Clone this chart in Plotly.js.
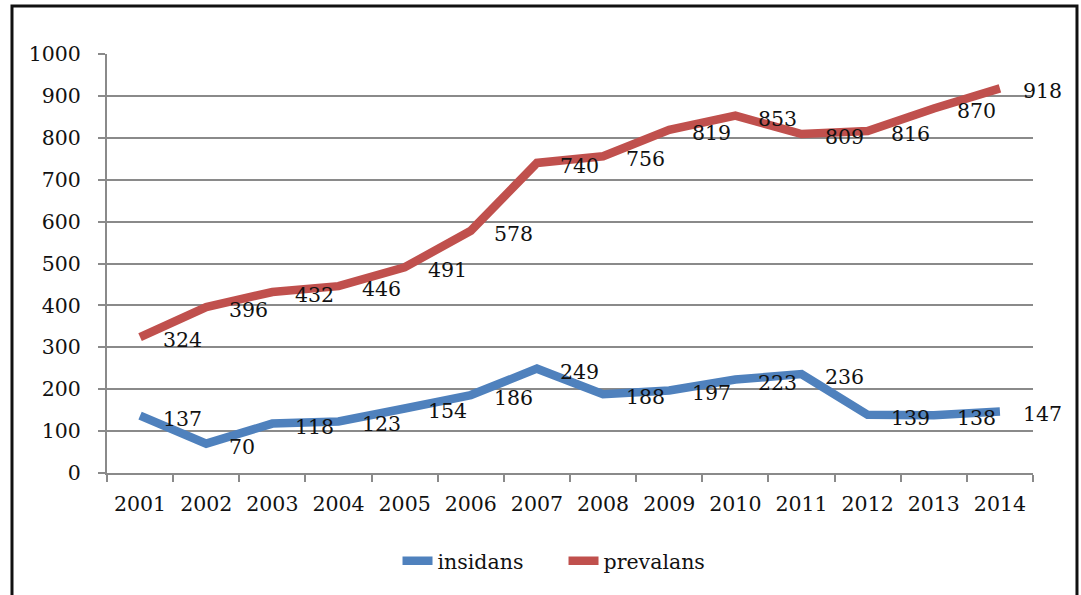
<!DOCTYPE html>
<html>
<head>
<meta charset="utf-8">
<script src="https://cdn.plot.ly/plotly-3.0.1.min.js"></script>
<style>html,body{margin:0;padding:0;background:#fff;}#chart{width:1081px;height:595px;}</style>
</head>
<body>
<div id="chart"></div>
<script>
const years = ["2001","2002","2003","2004","2005","2006","2007","2008","2009","2010","2011","2012","2013","2014"];
const insidans = [137,70,118,123,154,186,249,188,197,223,236,139,138,147];
const prevalans = [324,396,432,446,491,578,740,756,819,853,809,816,870,918];
const yTicks = [0,100,200,300,400,500,600,700,800,900,1000];

const FONT = "DejaVu Serif, serif";
const FS = 20.5;
const TXT = "#111";
const blue = "#4F81BD", red = "#C0504D";

function series(name, vals, color) {
  return {
    type: "scatter", mode: "lines", name: name, x: years, y: vals,
    line: {color: color, width: 8.5, shape: "linear"},
    hoverinfo: "skip"
  };
}
function labels(vals) {
  return vals.map((v, i) => ({
    x: i, y: v, xref: "x", yref: "y", text: String(v),
    showarrow: false, xanchor: "left", yanchor: "middle",
    xshift: 21, yshift: -3,
    font: {family: FONT, size: FS, color: TXT}
  }));
}

const layout = {
  width: 1081, height: 595,
  margin: {l: 107, r: 48, t: 54, b: 122},
  paper_bgcolor: "#fff", plot_bgcolor: "#fff",
  font: {family: FONT, size: FS, color: TXT},
  showlegend: true,
  legend: {orientation: "h", x: 0.493, xanchor: "center", y: -0.21, yanchor: "middle",
           font: {family: FONT, size: FS, color: TXT}, entrywidth: 121, entrywidthmode: "pixels"},
  xaxis: {
    type: "category", categoryorder: "array", categoryarray: years,
    range: [-0.5, years.length - 0.5], autorange: false,
    tickson: "boundaries", showgrid: false, tickangle: 0,
    showline: true, linecolor: "#8a8a8a", linewidth: 2,
    ticks: "outside", ticklen: 7, tickwidth: 2, tickcolor: "#8a8a8a",
    ticklabelstandoff: 11, fixedrange: true
  },
  yaxis: {
    range: [0, 1000], autorange: false, tickvals: yTicks, ticktext: yTicks.map(String),
    showgrid: true, gridcolor: "#8a8a8a", gridwidth: 2,
    showline: true, linecolor: "#8a8a8a", linewidth: 2,
    ticks: "outside", ticklen: 7, tickwidth: 2, tickcolor: "#8a8a8a",
    ticklabelstandoff: 13, zeroline: false, fixedrange: true
  },
  annotations: labels(insidans).concat(labels(prevalans)),
  shapes: [{
    type: "rect", xref: "paper", yref: "paper",
    x0: -0.1026, x1: 1.0475, y0: -0.4, y1: 1.1146,
    line: {color: "#111", width: 3}, fillcolor: "rgba(0,0,0,0)", layer: "below"
  }]
};

Plotly.newPlot("chart", [series("insidans", insidans, blue), series("prevalans", prevalans, red)], layout,
  {staticPlot: true, displayModeBar: false});
</script>
</body>
</html>
